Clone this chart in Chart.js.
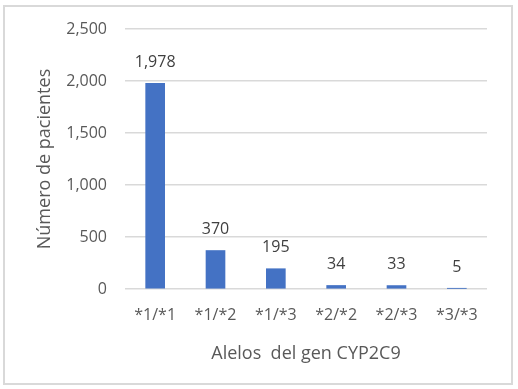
<!DOCTYPE html>
<html>
<head>
<meta charset="utf-8">
<script src="https://cdn.jsdelivr.net/npm/chart.js@4"></script>
<style>
  body { margin: 0; background: #fff; }
  #wrap { position: relative; width: 518px; height: 389px; }
  #frame { position: absolute; left: 3px; top: 5px; width: 506px; height: 376px; border: 2px solid #d9d9d9; pointer-events: none; }
</style>
</head>
<body>
<div id="wrap">
  <canvas id="myChart" width="518" height="389"></canvas>
  <div id="frame"></div>
</div>
<script>
const categories = ["*1/*1", "*1/*2", "*1/*3", "*2/*2", "*2/*3", "*3/*3"];
const pacientes = [1978, 370, 195, 34, 33, 5];
const yTicks = [0, 500, 1000, 1500, 2000, 2500];

const FONT = "'Open Sans', sans-serif";

// etiquetas de valor encima de cada barra
const valueLabels = {
  id: "valueLabels",
  afterDatasetsDraw(chart) {
    const ctx = chart.ctx;
    const meta = chart.getDatasetMeta(0);
    ctx.save();
    ctx.font = "16px " + FONT;
    ctx.fillStyle = "#404040";
    ctx.textAlign = "center";
    ctx.textBaseline = "middle";
    meta.data.forEach((bar, i) => {
      ctx.fillText(pacientes[i].toLocaleString("en-US"), bar.x, bar.y - 21);
    });
    ctx.restore();
  },
};

const ctx = document.getElementById("myChart");
new Chart(ctx, {
  type: "bar",
  data: {
    labels: categories,
    datasets: [
      {
        label: "Número de pacientes",
        data: pacientes,
        backgroundColor: "#4472C4",
        barThickness: 19,
      },
    ],
  },
  options: {
    responsive: false,
    animation: false,
    layout: { padding: { left: 0, top: 29, right: 31, bottom: 0 } },
    plugins: {
      legend: { display: false },
      tooltip: { enabled: false },
    },
    scales: {
      x: {
        grid: { display: false },
        border: { display: false },
        ticks: { color: "#595959", font: { family: FONT, size: 16 }, padding: 9 },
        title: {
          display: true,
          text: "Alelos  del gen CYP2C9",
          color: "#595959",
          font: { family: FONT, size: 18 },
          padding: { top: 0, bottom: 24 },
        },
        afterFit(scale) { scale.height = 100; },
      },
      y: {
        min: 0,
        max: 2500,
        afterBuildTicks(scale) { scale.ticks = yTicks.map(v => ({ value: v })); },
        grid: { color: "#d9d9d9", lineWidth: 1.5, drawTicks: false },
        border: { display: false },
        ticks: {
          color: "#595959",
          font: { family: FONT, size: 16 },
          padding: 18,
          callback: v => v.toLocaleString("en-US"),
        },
        title: {
          display: true,
          text: "Número de pacientes",
          color: "#595959",
          font: { family: FONT, size: 18 },
          padding: { top: 34, bottom: 0 },
        },
        afterFit(scale) { scale.width = 125; },
      },
    },
  },
  plugins: [valueLabels],
});
</script>
</body>
</html>
